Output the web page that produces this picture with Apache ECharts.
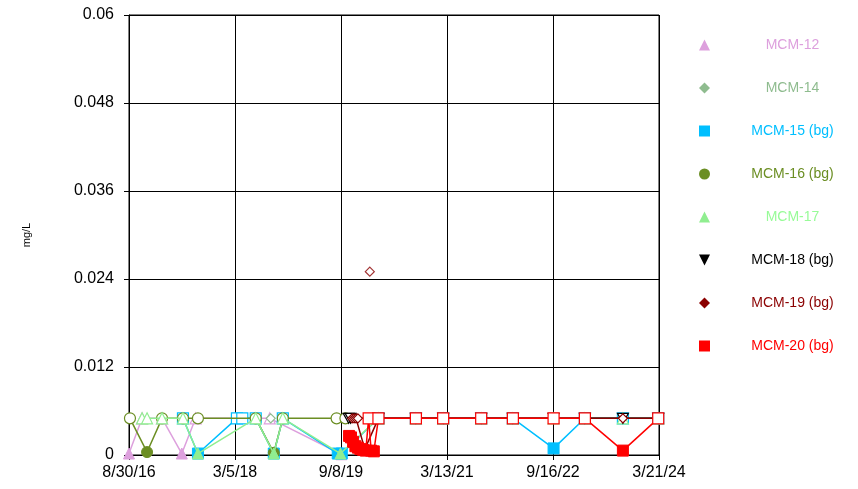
<!DOCTYPE html>
<html><head><meta charset="utf-8">
<script src="https://cdn.jsdelivr.net/npm/echarts@6/dist/echarts.min.js"></script>
<style>html,body{margin:0;padding:0;background:#fff}#c{width:858px;height:489px}</style>
</head><body><div id="c"></div>
<script>
// ---- axis ticks ----
const xTickLabels = ['8/30/16','3/5/18','9/8/19','3/13/21','9/16/22','3/21/24'];
const xStart = '2016-08-30';
const xStepDays = 552;
const yMin = 0, yMax = 0.06, yStep = 0.012;

// ---- series (nd = 1 means non-detect, drawn hollow) ----
const names = ['MCM-12','MCM-14','MCM-15 (bg)','MCM-16 (bg)','MCM-17','MCM-18 (bg)','MCM-19 (bg)','MCM-20 (bg)'];
const colors = ['#DDA0DD','#8FBC8F','#00BFFF','#6B8E23','#90EE90','#000000','#8B0000','#FF0000'];
const textColors = ['#DDA0DD','#8FBC8F','#00BFFF','#6B8E23','#98FB98','#000000','#8B0000','#FF0000'];
const symbols = ['triangle','diamond','rect','circle','triangle','triangle','diamond','rect'];

const mcm12Dates = ['2016-08-30','2016-11-06','2017-02-18','2017-06-01','2017-08-12','2018-09-02','2019-09-10'];
const mcm12Values = [0.0002,0.005,0.005,0.0002,0.005,0.005,0.0001];
const mcm12ND = [0,1,1,0,1,1,0];

const mcm14Dates = ['2018-09-07'];
const mcm14Values = [0.005];
const mcm14ND = [1];

const mcm15Dates = ['2017-06-07','2017-08-24','2018-03-15','2018-04-12','2018-06-21','2018-09-23','2018-11-09','2019-08-22','2019-09-12','2020-03-21','2020-10-02','2021-02-21','2021-09-07','2022-02-19','2022-09-19','2023-03-01','2023-09-15','2024-03-17'];
const mcm15Values = [0.005,0.0002,0.005,0.005,0.005,0.0002,0.005,0.0002,0.0002,0.005,0.005,0.005,0.005,0.005,0.0009,0.005,0.005,0.005];
const mcm15ND = [1,0,1,1,1,0,1,0,0,1,1,1,1,1,0,1,1,1];

const mcm16Dates = ['2016-09-04','2016-12-02','2017-02-18','2017-06-07','2017-08-24','2018-06-21','2018-09-23','2018-11-09','2019-08-16','2019-10-01'];
const mcm16Values = [0.005,0.0004,0.005,0.005,0.005,0.005,0.0003,0.005,0.005,0.005];
const mcm16ND = [1,0,1,1,1,1,0,1,1,1];

const mcm17Dates = ['2016-11-06','2016-12-02','2017-02-18','2017-06-07','2017-08-24','2018-06-21','2018-09-23','2018-11-09','2019-09-05','2020-03-21','2020-10-02','2021-02-21','2021-09-07','2022-02-19','2022-09-19','2023-03-01','2023-09-15','2024-03-17'];
const mcm17Values = [0.005,0.005,0.005,0.005,0.0002,0.005,0.0002,0.005,0.0002,0.005,0.005,0.005,0.005,0.005,0.005,0.005,0.005,0.005];
const mcm17ND = [1,1,1,1,0,1,0,1,0,1,1,1,1,1,1,1,1,1];

const mcm18Dates = ['2019-10-18','2019-10-28','2020-03-21','2020-10-02','2021-02-21','2021-09-07','2022-02-19','2022-09-19','2023-03-01','2023-09-15','2024-03-17'];
const mcm18Values = [0.005,0.005,0.005,0.005,0.005,0.005,0.005,0.005,0.005,0.005,0.005];
const mcm18ND = [1,1,1,1,1,1,1,1,1,1,1];

const mcm19Dates = ['2019-11-05','2019-11-15','2019-11-25','2019-12-05','2020-01-10','2020-03-21','2020-10-02','2021-02-21','2021-09-07','2022-02-19','2022-09-19','2023-03-01','2023-09-15','2024-03-17'];
const mcm19Values = [0.005,0.005,0.005,0.005,0.0008,0.005,0.005,0.005,0.005,0.005,0.005,0.005,0.005,0.005];
const mcm19ND = [1,1,1,1,0,1,1,1,1,1,1,1,1,1];
// isolated elevated reporting-limit result (not connected)
const mcm19HighDates = ['2020-02-05'];
const mcm19HighValues = [0.025];
const mcm19HighND = [1];

const mcm20Dates = ['2019-10-20','2019-10-30','2019-11-10','2019-11-22','2019-12-05','2019-12-18','2020-01-01','2020-01-15','2020-01-30','2020-02-12','2020-02-26','2020-03-21','2020-10-02','2021-02-21','2021-09-07','2022-02-19','2022-09-19','2023-03-01','2023-09-15','2024-03-17'];
const mcm20Values = [0.0026,0.0024,0.0018,0.0012,0.001,0.0008,0.0007,0.0006,0.005,0.0006,0.0005,0.005,0.005,0.005,0.005,0.005,0.005,0.005,0.0006,0.005];
const mcm20ND = [0,0,0,0,0,0,0,0,1,0,0,1,1,1,1,1,1,1,0,1];

const seriesDates = [mcm12Dates,mcm14Dates,mcm15Dates,mcm16Dates,mcm17Dates,mcm18Dates,mcm19Dates,mcm20Dates];
const seriesValues = [mcm12Values,mcm14Values,mcm15Values,mcm16Values,mcm17Values,mcm18Values,mcm19Values,mcm20Values];
const seriesND = [mcm12ND,mcm14ND,mcm15ND,mcm16ND,mcm17ND,mcm18ND,mcm19ND,mcm20ND];

// ---- build ----
const DAY = 86400000;
function toUTC(s){const p=s.split('-').map(Number);return Date.UTC(p[0],p[1]-1,p[2]);}
const t0 = toUTC(xStart);
function dayOffset(s){return Math.round((toUTC(s)-t0)/DAY);}

const FONT = 'Liberation Sans, Arial, sans-serif';
const sizes = [11,9,11,11,11,11,9,11];
const downTri = 'path://M0,0L10,0L5,10Z';

function buildData(dates, values, nd, color){
  return dates.map((d,i)=>{
    const item = {value:[dayOffset(d), values[i]]};
    if(nd[i]) item.itemStyle = {color:'#FFFFFF', borderColor:color, borderWidth:1.2};
    return item;
  });
}

const series = names.map((n,k)=>({
  name:n, type:'line',
  data: buildData(seriesDates[k], seriesValues[k], seriesND[k], colors[k]),
  symbol: k===5 ? downTri : symbols[k], symbolSize: k===5 ? [11,10] : sizes[k],
  showAllSymbol:true,
  lineStyle:{color:colors[k], width:1.5},
  itemStyle:{color:colors[k], borderColor:colors[k]},
  emphasis:{disabled:true},
  z: 2+k
}));
series.push({
  name: names[6], type:'scatter',
  data: buildData(mcm19HighDates, mcm19HighValues, mcm19HighND, colors[6]),
  symbol:'diamond', symbolSize:9,
  itemStyle:{color:colors[6], borderColor:colors[6]},
  z: 8
});

const chart = echarts.init(document.getElementById('c'), null, {renderer:'canvas'});
chart.setOption({
  animation:false,
  backgroundColor:'#fff',
  grid:{left:129, right:199, top:15, bottom:34, show:true, borderColor:'#000', borderWidth:1},
  xAxis:{
    type:'value', min:0, max:xStepDays*(xTickLabels.length-1), interval:xStepDays,
    axisLine:{lineStyle:{color:'#000', width:1}},
    axisTick:{show:true, inside:false, length:5, lineStyle:{color:'#000'}},
    splitLine:{show:true, lineStyle:{color:'#000', width:1}},
    axisLabel:{color:'#000', fontFamily:FONT, fontSize:16, margin:10,
      formatter:(v)=>xTickLabels[Math.round(v/xStepDays)] || ''}
  },
  yAxis:{
    type:'value', min:yMin, max:yMax, interval:yStep,
    name:'mg/L', nameLocation:'middle', nameGap:97,
    nameTextStyle:{color:'#000', fontFamily:FONT, fontSize:11},
    axisLine:{show:true, lineStyle:{color:'#000', width:1}},
    axisTick:{show:true, inside:false, length:5, lineStyle:{color:'#000'}},
    splitLine:{show:true, lineStyle:{color:'#000', width:1}},
    axisLabel:{color:'#000', fontFamily:FONT, fontSize:16, margin:15,
      formatter:(v)=>String(Math.round(v*1000)/1000)}
  },
  legend:{
    orient:'vertical', left:694, top:33, padding:5, itemWidth:11, itemHeight:11, itemGap:29,
    selectedMode:false,
    data: names.map((n,k)=>({name:n, icon: k===5 ? downTri : symbols[k], itemStyle:{color:colors[k], borderWidth:0},
      textStyle:{color:textColors[k]}})),
    formatter:(n)=>'{t|'+n+'}',
    textStyle:{fontFamily:FONT, fontSize:14,
      rich:{t:{width:155, align:'center', fontFamily:FONT, fontSize:14, lineHeight:13}}}
  },
  series: series
});
</script>
</body></html>
